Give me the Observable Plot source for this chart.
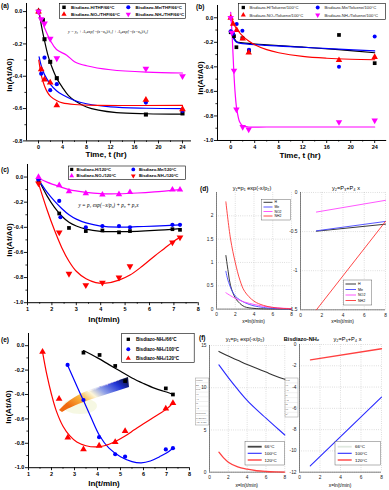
<!DOCTYPE html>
<html><head><meta charset="utf-8">
<script src="https://cdn.jsdelivr.net/npm/d3@7"></script>
<script src="https://cdn.jsdelivr.net/npm/@observablehq/plot@0.6"></script>
<style>
body{margin:0;background:#fff}
#fig{position:relative;width:389px;height:490px;overflow:hidden;background:#fff}
</style></head><body><div id="fig"></div><script>
// ---------- DATA ----------
// (a) THF / 66°C  [time hr, ln(At/A0)]
const a_H   = [[0,0],[0.73,-0.053],[1,-0.171],[1.95,-0.311],[3.05,-0.412],[17.9,-0.637],[24,-0.63]];
const a_Me  = [[0,0],[0.45,-0.384],[1,-0.285],[1.95,-0.486],[3.05,-0.449],[17.9,-0.563],[24,-0.614]];
const a_NO2 = [[0,0],[0.45,-0.357],[1,-0.42],[1.95,-0.439],[3.05,-0.58],[17.9,-0.546],[24,-0.604]];
const a_NH2 = [[0,0],[0.45,-0.047],[1,-0.074],[1.95,-0.167],[3.05,-0.289],[17.9,-0.353],[24,-0.4]];
const a_H_fit   = [[0,0.02],[0.5,-0.09],[1,-0.18],[1.5,-0.26],[2,-0.32],[3,-0.41],[4,-0.47],[5,-0.52],[6,-0.55],[8,-0.59],[10,-0.61],[13,-0.625],[18,-0.632],[24,-0.635]];
const a_Me_fit  = [[0.1,-0.28],[0.5,-0.34],[1,-0.39],[2,-0.45],[3,-0.49],[4,-0.515],[6,-0.55],[8,-0.57],[12,-0.59],[18,-0.598],[24,-0.6]];
const a_NO2_fit = [[0.05,-0.3],[0.5,-0.4],[1,-0.46],[1.5,-0.5],[2,-0.525],[3,-0.55],[4,-0.565],[6,-0.575],[10,-0.58],[24,-0.58]];
const a_NH2_fit = [[0,0],[0.5,-0.05],[1,-0.1],[2,-0.18],[3,-0.235],[4.7,-0.27],[6,-0.31],[8,-0.335],[12,-0.36],[18,-0.375],[24,-0.38]];
// (b) Toluene / 100°C
const b_H   = [[0,-0.118],[0.55,-0.15],[0.95,-0.24],[1.95,-0.167],[3.05,-0.268],[18.05,-0.14],[24,-0.37]];
const b_Me  = [[0,-0.11],[0.4,-0.13],[1,-0.05],[1.95,-0.106],[3.05,-0.26],[18.05,-0.4],[24,-0.153]];
const b_NO2 = [[0,0],[0.4,-0.05],[1,-0.1],[2,-0.17],[3,-0.285],[18.05,-0.345],[24,-0.32]];
const b_NH2 = [[0,0],[0.2,-0.12],[0.55,-0.43],[0.95,-0.747],[2,-0.89],[3,-0.91],[18.05,-0.85],[24,-0.837]];
const b_H_fit   = [[0,-0.1],[0.5,-0.16],[1,-0.195],[2,-0.205],[6,-0.22],[12,-0.24],[18,-0.26],[24,-0.285]];
const b_Me_fit  = [[0,-0.11],[0.5,-0.17],[1,-0.2],[2,-0.21],[6,-0.225],[12,-0.24],[18,-0.255],[24,-0.27]];
const b_NO2_fit = [[0,0.01],[0.5,-0.05],[1,-0.09],[2,-0.15],[3,-0.19],[4,-0.22],[6,-0.26],[8,-0.285],[12,-0.315],[16,-0.33],[20,-0.338],[24,-0.342]];
const b_NH2_fit = [[0,0.045],[0.25,-0.15],[0.5,-0.42],[0.75,-0.62],[1,-0.74],[1.5,-0.85],[2,-0.88],[3,-0.89],[6,-0.89],[24,-0.89]];
// (c) 120°C  [ln(t/min), ln(At/A0)]
const c_H   = [[1.45,-0.026],[2.3,-0.29],[2.7,-0.405],[3.39,-0.43],[4.07,-0.425],[4.75,-0.44],[5.2,-0.43],[6.94,-0.415],[7.25,-0.42]];
const c_Me  = [[1.45,-0.02],[2.3,-0.19],[2.35,-0.32],[3.39,-0.4],[4.07,-0.39],[4.75,-0.39],[5.2,-0.4],[6.94,-0.38],[7.25,-0.38]];
const c_NO2 = [[1.45,0],[2.3,-0.066],[2.7,-0.114],[3.39,-0.13],[4.07,-0.14],[4.75,-0.137],[5.2,-0.12],[6.94,-0.1],[7.25,-0.1]];
const c_NH2 = [[1.45,-0.05],[2.3,-0.44],[2.7,-0.77],[3.39,-0.86],[4.07,-0.84],[4.75,-0.8],[5.2,-0.71],[6.94,-0.52],[7.25,-0.48]];
const c_H_fit   = [[1.45,-0.02],[1.8,-0.15],[2.1,-0.24],[2.4,-0.31],[2.7,-0.36],[3,-0.39],[3.4,-0.415],[4,-0.432],[4.75,-0.435],[5.5,-0.432],[6.2,-0.425],[7.25,-0.41]];
const c_Me_fit  = [[1.45,-0.02],[1.8,-0.12],[2.1,-0.19],[2.4,-0.25],[2.7,-0.3],[3,-0.335],[3.4,-0.365],[4,-0.39],[4.75,-0.398],[5.5,-0.395],[6.2,-0.39],[7.25,-0.38]];
const c_NO2_fit = [[1.45,-0.01],[1.8,-0.04],[2.3,-0.075],[2.7,-0.1],[3.4,-0.122],[4,-0.132],[4.75,-0.133],[5.5,-0.127],[6.2,-0.118],[7.25,-0.1]];
const c_NH2_fit = [[1.45,-0.05],[1.8,-0.26],[2.1,-0.42],[2.4,-0.56],[2.7,-0.67],[3,-0.75],[3.4,-0.81],[3.8,-0.84],[4.2,-0.845],[4.75,-0.82],[5.2,-0.78],[5.7,-0.71],[6.2,-0.63],[6.6,-0.57],[7,-0.51],[7.25,-0.48]];
// (d) MATLAB fits  [x=ln(t/min), y]
const d1_H   = [[1,1.15],[1.25,0.8],[1.5,0.5],[2,0.24],[2.5,0.12],[3,0.05],[4,0.015],[5,0.005],[8,0]];
const d1_Me  = [[1,0.81],[1.3,0.57],[2,0.28],[3,0.14],[4,0.07],[5,0.035],[6,0.015],[8,0.003]];
const d1_NO2 = [[1,0.35],[2,0.23],[3,0.15],[4,0.1],[5,0.06],[6,0.035],[7,0.02],[8,0.01]];
const d1_NH2 = [[1,2.3],[1.5,1.5],[2,1.0],[2.5,0.62],[3,0.38],[4,0.17],[5,0.08],[6,0.035],[7,0.015],[8,0.007]];
const d2_H   = [[1.5,-0.495],[8,-0.405]];
const d2_Me  = [[1.5,-0.49],[8,-0.37]];
const d2_NO2 = [[1.5,-0.25],[8,-0.1]];
const d2_NH2 = [[1.5,-1.5],[8,-0.37]];
// (e) Bisdiazo-NH2 at three temperatures
const e_66  = [[3.39,-0.057],[4.09,-0.076],[4.77,-0.166],[5.2,-0.29],[6.97,-0.35],[7.28,-0.4]];
const e_100 = [[2.7,-0.158],[3.39,-0.445],[4.07,-0.75],[4.77,-0.89],[5.2,-0.91],[6.97,-0.85],[7.28,-0.84]];
const e_120 = [[1.61,-0.05],[2.33,-0.435],[2.71,-0.754],[3.39,-0.85],[4.07,-0.82],[4.77,-0.79],[5.2,-0.7],[6.97,-0.516],[7.28,-0.47]];
const e_66_fit  = [[3.39,-0.04],[4,-0.1],[4.5,-0.155],[5,-0.21],[5.5,-0.265],[6,-0.31],[6.5,-0.35],[7,-0.38],[7.28,-0.4]];
const e_100_fit = [[2.7,-0.16],[3.1,-0.33],[3.39,-0.45],[3.7,-0.58],[4.1,-0.74],[4.5,-0.84],[5,-0.91],[5.5,-0.95],[5.9,-0.96],[6.3,-0.945],[6.7,-0.91],[7,-0.88],[7.28,-0.84]];
const e_120_fit = [[1.61,-0.05],[1.8,-0.24],[2,-0.4],[2.2,-0.53],[2.5,-0.66],[2.8,-0.74],[3.1,-0.79],[3.5,-0.82],[3.9,-0.83],[4.3,-0.82],[4.77,-0.785],[5.2,-0.74],[5.6,-0.69],[6,-0.64],[6.5,-0.58],[7,-0.52],[7.28,-0.47]];
// (f) Bisdiazo-NH2 fits
const f1_66  = [[1,14.3],[2,13.75],[3,13.25],[4,12.75],[5,12.3],[6,11.85],[7,11.4],[8,11.0]];
const f1_100 = [[1,12.7],[2,11.2],[3,9.8],[4,8.5],[5,7.4],[6,6.4],[7,5.4],[8,4.4]];
const f1_120 = [[1,2.37],[1.5,1.7],[2,1.18],[3,0.62],[4,0.35],[5,0.17],[6,0.08],[7,0.03],[8,0.01]];
const f2_100 = [[1.05,-11.4],[8,-4.95]];
const f2_120 = [[1.07,-1.44],[8,-0.4]];
// tick labels
const tTicks = [0,4,8,12,16,20,24], tMinor = [2,6,10,14,18,22];
const lnTicks = [1,2,3,4,5,6,7,8], lnMinor = [1.5,2.5,3.5,4.5,5.5,6.5,7.5];
const aY = [0,-0.2,-0.4,-0.6,-0.8], aYm = [-0.1,-0.3,-0.5,-0.7];
const bY = [0,-0.2,-0.4,-0.6,-0.8,-1.0], bYm = [-0.1,-0.3,-0.5,-0.7,-0.9];
const mX = [0,2,4,6,8];
const d1Y = [0,0.5,1,1.5,2], d2Y = [0,-0.5,-1,-1.5];
const f1Y = [0,5,10,15], f2Y = [0,-2,-4,-6,-8,-10,-12];
// legend labels
const aLeg = ["Bisdiazo-H/THF/66°C","Bisdiazo-Me/THF/66°C","Bisdiazo-NO₂/THF/66°C","Bisdiazo-NH₂/THF/66°C"];
const bLeg = ["Bisdiazo-H/Toluene/100°C","Bisdiazo-Me/Toluene/100°C","Bisdiazo-NO₂/Toluene/100°C","Bisdiazo-NH₂/Toluene/100°C"];
const cLeg = ["Bisdiazo-H/120°C","Bisdiazo-Me/120°C","Bisdiazo-NO₂/120°C","Bisdiazo-NH₂/120°C"];
const dLeg = ["H","Me","NO2","NH2"];
const eLeg = ["Bisdiazo-NH₂/66°C","Bisdiazo-NH₂/100°C","Bisdiazo-NH₂/120°C"];
const fLeg = ["66°C","100°C","120°C"];
// fit-parameter inset tables (partly hidden in the original)
const inset1 = ["Model","Eq","Plot","y0","A1","t1","A2","Reduced","R-Square","Adj. R-Sq"];
const inset2 = ["Plot","y0","A1","t1","A2","t2","x0","R²"];

// ---------- HELPERS ----------
const FONT = "'Liberation Sans', Arial, Helvetica, sans-serif";
const fig = document.getElementById("fig");
const X = d => d[0], Y = d => d[1];
const K = "#000000", B = "#0000ff", R = "#ff0000", M = "#ff00ff";
const triDown = {draw(ctx, size){const y = Math.sqrt(size/(Math.sqrt(3)*3)); ctx.moveTo(0, y*2); ctx.lineTo(-Math.sqrt(3)*y, -y); ctx.lineTo(Math.sqrt(3)*y, -y); ctx.closePath();}};

function panel(fr, xd, yd, marks, m = {}) {
  const [x0,y0,x1,y1] = fr;
  const ml = m.l ?? 24, mt = m.t ?? 4, mr = m.r ?? 6, mb = m.b ?? 12;
  const svg = Plot.plot({
    width: x1-x0+ml+mr, height: y1-y0+mt+mb,
    marginLeft: ml, marginTop: mt, marginRight: mr, marginBottom: mb,
    x: {domain: xd}, y: {domain: yd},
    style: {background: "transparent", overflow: "visible", fontFamily: FONT},
    marks
  });
  svg.style.position = "absolute";
  svg.style.left = (x0-ml) + "px";
  svg.style.top = (y0-mt) + "px";
  fig.appendChild(svg);
}
const f1 = d => d.toFixed(1);
function originAxes(xd, yd, xT, xM, yT, yM, xF, yF) {
  return [
    Plot.axisX({ticks: xM, tickSize: 1.6, tickFormat: () => "", label: null, strokeWidth: 0.8}),
    Plot.axisY({ticks: yM, tickSize: 1.6, tickFormat: () => "", label: null, strokeWidth: 0.8}),
    Plot.axisX({ticks: xT, tickSize: 3, tickPadding: 1.2, tickFormat: xF, label: null, fontSize: 5.5, fontWeight: "bold", strokeWidth: 0.9}),
    Plot.axisY({ticks: yT, tickSize: 3, tickPadding: 1.2, tickFormat: yF, label: null, fontSize: 5.5, fontWeight: "bold", strokeWidth: 0.9}),
    Plot.ruleX([xd[0]], {strokeWidth: 1}),
    Plot.ruleY([yd[0]], {strokeWidth: 1})
  ];
}
function matAxes(xd, yd, xT, yT) {
  return [
    Plot.gridX({ticks: xT, stroke: "#999", strokeOpacity: 0.8, strokeDasharray: "0.8,1.4", strokeWidth: 0.5}),
    Plot.gridY({ticks: yT, stroke: "#999", strokeOpacity: 0.8, strokeDasharray: "0.8,1.4", strokeWidth: 0.5}),
    Plot.axisX({ticks: xT, tickSize: 0, tickPadding: 3.5, label: null, fontSize: 4.8, fill: "#222"}),
    Plot.axisY({ticks: yT, tickSize: 0, tickPadding: 3, label: null, fontSize: 4.8, fill: "#222", tickFormat: d => String(d)}),
    Plot.ruleX([xd[0]], {stroke: "#333", strokeWidth: 0.6}),
    Plot.ruleY([yd[0]], {stroke: "#333", strokeWidth: 0.6})
  ];
}
const fit = (data, stroke, w = 1.2) => Plot.line(data, {x: X, y: Y, stroke, strokeWidth: w, curve: "catmull-rom"});
const pts = (data, fill, symbol, r = 2.2) => Plot.dot(data, {x: X, y: Y, fill, symbol, r});

function layer() {
  return d3.select(fig).append("svg").attr("width", 389).attr("height", 490)
    .style("position", "absolute").style("left", "0px").style("top", "0px").style("font-family", FONT);
}
function txtOn(L, x, y, s, o = {}) {
  const t = L.append("text").attr("x", x).attr("y", y).text(s)
    .attr("font-size", o.fs || 5).attr("font-weight", o.fw || "normal").attr("fill", o.fill || "#000")
    .attr("text-anchor", o.anchor || "start").attr("dominant-baseline", "central");
  if (o.fam) t.attr("font-family", o.fam);
  if (o.italic) t.attr("font-style", "italic");
  if (o.len) t.attr("textLength", o.len).attr("lengthAdjust", "spacingAndGlyphs");
  if (o.rot != null) t.attr("transform", `rotate(${o.rot},${x},${y})`);
  return t;
}
function rectOn(L, x, y, w, h, stroke = "#000", sw = 0.6) {
  L.append("rect").attr("x", x).attr("y", y).attr("width", w).attr("height", h).attr("fill", "#fff").attr("stroke", stroke).attr("stroke-width", sw);
}
function segOn(L, x1, y1, x2, y2, color, w = 1) {
  L.append("line").attr("x1", x1).attr("y1", y1).attr("x2", x2).attr("y2", y2).attr("stroke", color).attr("stroke-width", w);
}

// ---------- PANEL (a) ----------
{
  const xd = [-2, 25.5], yd = [-0.8, 0.05];
  panel([26.3, 2.6, 191.3, 140], xd, yd, [
    ...originAxes(xd, yd, tTicks, tMinor, aY, aYm, d => String(d), f1),
    fit(a_H_fit, K), fit(a_Me_fit, B), fit(a_NO2_fit, R), fit(a_NH2_fit, M),
    pts(a_H, K, "square", 2.3), pts(a_Me, B, "circle", 2.1), pts(a_NO2, R, "triangle", 2.5), pts(a_NH2, M, triDown, 2.5)
  ]);
}
// ---------- PANEL (b) ----------
{
  const xd = [-2.2, 26], yd = [-1, 0.1];
  panel([216.8, 5, 386, 140], xd, yd, [
    ...originAxes(xd, yd, tTicks, tMinor, bY, bYm, d => String(d), f1),
    fit(b_H_fit, K), fit(b_Me_fit, B), fit(b_NO2_fit, R), fit(b_NH2_fit, M),
    pts(b_H, K, "square", 2.1), pts(b_Me, B, "circle", 2.0), pts(b_NO2, R, "triangle", 2.4), pts(b_NH2, M, triDown, 2.4)
  ]);
}
// ---------- PANEL (c) ----------
{
  const xd = [1, 8], yd = [-1, 0.1];
  panel([26.7, 164.1, 197.5, 302.3], xd, yd, [
    ...originAxes(xd, yd, lnTicks, lnMinor, bY, bYm, d => String(d), f1),
    fit(c_H_fit, K), fit(c_Me_fit, B), fit(c_NO2_fit, M), fit(c_NH2_fit, R),
    pts(c_H, K, "square", 2.1), pts(c_Me, B, "circle", 2.1), pts(c_NO2, M, "triangle", 2.4), pts(c_NH2, R, triDown, 2.5)
  ]);
}
// ---------- PANEL (d) ----------
{
  const xd = [0, 8], yd = [0, 2.5];
  panel([216, 191.7, 291, 308.3], xd, yd, [
    ...matAxes(xd, yd, mX, d1Y),
    fit(d1_H, "#222", 0.9), fit(d1_Me, "#4444ff", 0.9), fit(d1_NO2, "#ff44ff", 0.9), fit(d1_NH2, "#ff3333", 0.9)
  ], {l: 14, b: 10});
  const xd2 = [0, 8], yd2 = [-1.5, 0];
  panel([300, 191.7, 385, 309], xd2, yd2, [
    ...matAxes(xd2, yd2, mX, d2Y),
    fit(d2_H, "#222", 0.9), fit(d2_Me, "#4444ff", 0.9), fit(d2_NO2, "#ff44ff", 0.9), fit(d2_NH2, "#ff3333", 0.9)
  ], {l: 16, b: 10});
}
// ---------- PANEL (e) underlay: solvent temperature wedge ----------
{
  const u = layer();
  const g = u.append("defs").append("linearGradient").attr("id", "wedge").attr("x1", "0").attr("x2", "1").attr("y1", "0.6").attr("y2", "0");
  [["0", "#f06a10"], ["0.22", "#f8b23a"], ["0.4", "#fdf6d8"], ["0.55", "#8fa0e8"], ["0.78", "#1f33d6"], ["1", "#05081a"]]
    .forEach(([o, c]) => g.append("stop").attr("offset", o).attr("stop-color", c));
  u.append("ellipse").attr("cx", 80).attr("cy", 406).attr("rx", 17).attr("ry", 8).attr("fill", "#f4f6dc").attr("opacity", 0.8);
  u.append("path").attr("d", "M59,410 C68,400 80,393 92,389 L128,377 L129,387 L92,399 C80,403 68,408 62,412 Z").attr("fill", "url(#wedge)");
  u.append("text").attr("x", 88).attr("y", 392).attr("font-size", 3.4).attr("font-family", FONT).attr("font-weight", "bold")
    .attr("fill", "#fff").attr("transform", "rotate(-21,88,392)").text("Solvent Temperature");
}
// ---------- PANEL (e) ----------
{
  const xd = [1, 8], yd = [-1, 0.1];
  panel([28.3, 332.5, 189.3, 466.7], xd, yd, [
    ...originAxes(xd, yd, lnTicks, lnMinor, bY, bYm, d => String(d), f1),
    fit(e_66_fit, K), fit(e_100_fit, B), fit(e_120_fit, R),
    pts(e_66, K, "square", 2.1), pts(e_100, B, "circle", 2.1), pts(e_120, R, "triangle", 2.5)
  ]);
}
// ---------- PANEL (f) underlay: inset tables ----------
{
  const u = layer();
  rectOn(u, 195.3, 378, 13.5, 47, "#999", 0.5);
  inset1.forEach((s, i) => { const y = 378 + 4.7*i; if (i) segOn(u, 195.3, y, 208.8, y, "#ccc", 0.3); txtOn(u, 196, y + 2.4, s, {fs: 2.4, fill: "#555"}); });
  rectOn(u, 285, 378, 13, 39, "#999", 0.5);
  inset2.forEach((s, i) => { const y = 378 + 4.9*i; if (i) segOn(u, 285, y, 298, y, "#ccc", 0.3); txtOn(u, 285.6, y + 2.4, s, {fs: 2.4, fill: "#555"}); });
}
// ---------- PANEL (f) ----------
{
  const xd = [0, 8], yd = [0, 15];
  panel([209, 345, 284.3, 471.7], xd, yd, [
    ...matAxes(xd, yd, mX, f1Y),
    fit(f1_66, "#333", 1.1), fit(f1_100, "#2a2aff", 1.1), fit(f1_120, "#ff4040", 1.3)
  ], {l: 14, b: 10});
  const xd2 = [0, 8], yd2 = [-12, 0];
  panel([299, 344, 381, 471.7], xd2, yd2, [
    ...matAxes(xd2, yd2, mX, f2Y),
    fit(f2_100, "#2a2aff", 1.1), fit(f2_120, "#ff4040", 1.3)
  ], {l: 16, b: 10});
}

// ---------- OVERLAY: labels, legends ----------
const ov = layer();
const txt = (...a) => txtOn(ov, ...a);
const rect = (...a) => rectOn(ov, ...a);
const seg = (...a) => segOn(ov, ...a);
function mk(x, y, type, color, size = 13) {
  ov.append("path").attr("d", d3.symbol(type, size)()).attr("transform", `translate(${x},${y})`).attr("fill", color);
}
const SQ = d3.symbolSquare, CI = d3.symbolCircle, TU = d3.symbolTriangle;

// panel letters
txt(1, 5, "(a)", {fs: 6.5, fw: "bold"});
txt(196, 6, "(b)", {fs: 6.5, fw: "bold"});
txt(1, 169, "(c)", {fs: 6.5, fw: "bold"});
txt(200, 188, "(d)", {fs: 6.5, fw: "bold"});
txt(1, 339, "(e)", {fs: 6.5, fw: "bold"});
txt(199, 337, "(f)", {fs: 6.5, fw: "bold"});

// axis titles
txt(106, 154.5, "Time, t (hr)", {fs: 8, fw: "bold", anchor: "middle"});
txt(300, 155, "Time, t (hr)", {fs: 8, fw: "bold", anchor: "middle"});
txt(9, 75, "ln(At/A0)", {fs: 8, fw: "bold", anchor: "middle", rot: -90});
txt(200, 78, "ln(At/A0)", {fs: 8, fw: "bold", anchor: "middle", rot: -90});
txt(9, 240, "ln(At/A0)", {fs: 8, fw: "bold", anchor: "middle", rot: -90});
txt(104, 319.5, "ln(t/min)", {fs: 8, fw: "bold", anchor: "middle"});
txt(8, 407, "ln(At/A0)", {fs: 8, fw: "bold", anchor: "middle", rot: -90});
txt(104, 483.5, "ln(t/min)", {fs: 8, fw: "bold", anchor: "middle"});
txt(253.5, 321, "x=ln(t/min)", {fs: 4.8, anchor: "middle"});
txt(342.5, 321, "x=ln(t/min)", {fs: 4.8, anchor: "middle"});
txt(246.7, 485, "x=ln(t/min)", {fs: 4.8, anchor: "middle"});
txt(340, 485, "x=ln(t/min)", {fs: 4.8, anchor: "middle"});

// equations
txt(68, 31, "y = y₀ + A₁exp[−(x−x₀)/t₁] + A₂exp[−(x−x₀)/t₂]", {fs: 4.6, fam: "'Liberation Serif', serif", italic: true, len: 80});
txt(78.5, 205, "y = p₁ exp(−x/p₂) + p₃ + p₅x", {fs: 5.2, fam: "'Liberation Serif', serif", italic: true, len: 60});

// MATLAB titles
txt(252, 187.5, "y₁=p₁ exp(-x/p₂)", {fs: 5.6, anchor: "middle"});
txt(346, 187.5, "y₂=P₃+P₄ x", {fs: 5.6, anchor: "middle"});
txt(245, 338.5, "y₁=p₁ exp(-x/p₂)", {fs: 5.6, anchor: "middle"});
txt(301.5, 338.5, "Bisdiazo-NH₂", {fs: 5.6, fw: "bold", anchor: "middle"});
txt(347.5, 338.5, "y₂=P₃+P₄ x", {fs: 5.6, anchor: "middle"});

// legend (a)
rect(59.5, 3.3, 126, 15);
mk(64, 7.3, SQ, K, 12); txt(71, 7.3, aLeg[0], {fs: 4.4, fw: "bold"});
mk(128.3, 7.3, CI, B, 13); txt(135.5, 7.3, aLeg[1], {fs: 4.4, fw: "bold"});
mk(64, 14.3, TU, R, 12); txt(71, 14.3, aLeg[2], {fs: 4.4, fw: "bold"});
mk(128.3, 14.3, triDown, M, 12); txt(135.5, 14.3, aLeg[3], {fs: 4.4, fw: "bold"});
// legend (b)
rect(238.3, 3.3, 147, 16);
mk(243.3, 7.5, SQ, K, 11); txt(249.5, 7.5, bLeg[0], {fs: 4.2, fill: "#222"});
mk(317.7, 7.5, CI, B, 12); txt(324.5, 7.5, bLeg[1], {fs: 4.2, fill: "#222"});
mk(243.3, 15, TU, R, 11); txt(249.5, 15, bLeg[2], {fs: 4.2, fill: "#222"});
mk(317.7, 15, triDown, M, 11); txt(324.5, 15, bLeg[3], {fs: 4.2, fill: "#222"});
// legend (c)
rect(68.3, 166, 117, 13.5);
mk(71.7, 169.4, SQ, K, 10); txt(76.5, 169.4, cLeg[0], {fs: 4.2, fw: "bold"});
mk(133.3, 169.4, CI, B, 11); txt(139, 169.4, cLeg[1], {fs: 4.2, fw: "bold"});
mk(71.7, 175.8, TU, M, 10); txt(76.5, 175.8, cLeg[2], {fs: 4.2, fw: "bold"});
mk(133.3, 175.8, triDown, R, 10); txt(139, 175.8, cLeg[3], {fs: 4.2, fw: "bold"});
// legend (d) left
rect(261.7, 199.3, 28.5, 20.7, "#444", 0.4);
[["#222", 202.3], ["#4444ff", 207], ["#ff44ff", 211.5], ["#ff3333", 216]].forEach(([c, y], i) => {
  seg(263.5, y, 272.5, y, c, 0.9); txt(274.5, y, dLeg[i], {fs: 3.4});
});
// legend (d) right
rect(343.3, 280, 28.5, 25, "#444", 0.4);
[["#222", 284], ["#4444ff", 289.5], ["#ff44ff", 295], ["#ff3333", 300.5]].forEach(([c, y], i) => {
  seg(345.5, y, 356, y, c, 0.9); txt(358, y, dLeg[i], {fs: 3.6});
});
// legend (e)
rect(121.7, 333.5, 72.5, 29);
mk(128.3, 339.3, SQ, K, 11); txt(136, 339.3, eLeg[0], {fs: 4.6, fw: "bold"});
mk(128.3, 349.3, CI, B, 12); txt(136, 349.3, eLeg[1], {fs: 4.6, fw: "bold"});
mk(128.3, 358.3, TU, R, 11); txt(136, 358.3, eLeg[2], {fs: 4.6, fw: "bold"});
// legend (f) left
rect(245, 441.7, 39.3, 23.3, "#444", 0.4);
[["#444", 446.7, 1.8], ["#2a2aff", 453.3, 1.1], ["#ff6a6a", 460, 1.8]].forEach(([c, y, w], i) => {
  seg(247.7, y, 261.7, y, c, w); txt(264.5, y, fLeg[i], {fs: 4.4});
});
// legend (f) right
rect(335, 441.7, 45.7, 23.3, "#444", 0.4);
[["#dfe8df", 446.7, 1.8], ["#2a2aff", 453.3, 1.1], ["#ff6a6a", 460, 1.8]].forEach(([c, y, w], i) => {
  seg(337.7, y, 351.7, y, c, w); txt(355, y, fLeg[i], {fs: 4.4});
});
</script></body></html>
